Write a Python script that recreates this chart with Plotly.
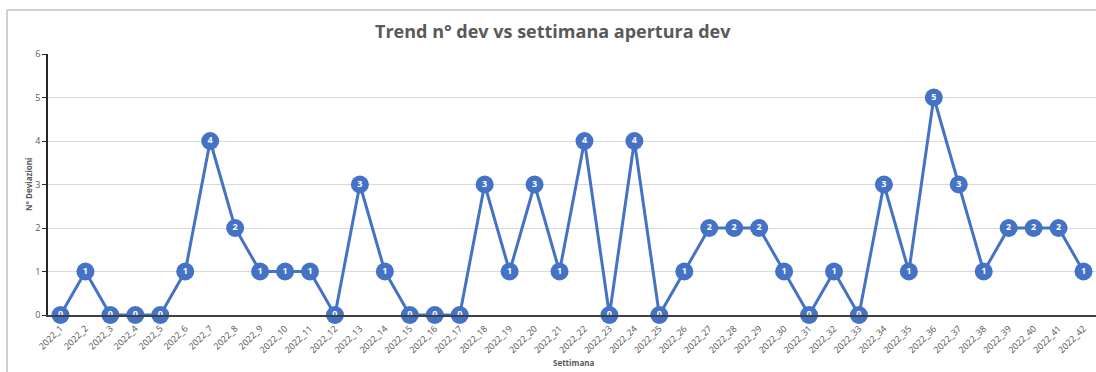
import plotly.graph_objects as go

weeks = [f"2022_{i}" for i in range(1, 43)]
deviations = [0, 1, 0, 0, 0, 1, 4, 2, 1, 1, 1, 0, 3, 1, 0, 0, 0, 3, 1, 3, 1,
              4, 0, 4, 0, 1, 2, 2, 2, 1, 0, 1, 0, 3, 1, 5, 3, 1, 2, 2, 2, 1]
y_ticks = [0, 1, 2, 3, 4, 5, 6]

W, H = 1096, 372
L, R, T, B = 48, 0, 54, 57
pw, ph = W - L - R, H - T - B

blue = "#4472C4"
grey_txt = "#595959"
font = "Open Sans"

fig = go.Figure()
fig.add_trace(go.Scatter(
    x=weeks, y=deviations,
    mode="lines+markers+text",
    line=dict(color=blue, width=3),
    marker=dict(size=18, color=blue, line=dict(width=0)),
    text=[str(v) for v in deviations],
    textposition="middle center",
    textfont=dict(family=font, size=9, color="white", weight="bold"),
    cliponaxis=False,
    hoverinfo="x+y",
))

fig.update_layout(
    width=W, height=H,
    margin=dict(l=L, r=R, t=T, b=B),
    paper_bgcolor="white", plot_bgcolor="white",
    showlegend=False,
    font=dict(family=font, color=grey_txt),
    xaxis=dict(
        type="category", range=[-0.5, len(weeks) - 0.5],
        tickangle=-45, tickfont=dict(size=9, color="#505050"),
        ticklabelstandoff=3,
        showgrid=False, showline=True, linecolor="#404040", linewidth=1.5,
        ticks="", zeroline=False, fixedrange=True,
    ),
    yaxis=dict(
        range=[0, 6], tickvals=y_ticks, tickfont=dict(size=9, color=grey_txt),
        showgrid=True, gridcolor="#d9d9d9", gridwidth=1,
        showline=True, linecolor="#262626", linewidth=1.5,
        ticks="outside", ticklen=4, tickcolor="#262626",
        zeroline=False, fixedrange=True,
    ),
    annotations=[
        dict(text="<b>Trend n° dev vs settimana apertura dev</b>",
             xref="paper", yref="paper", x=(W / 2 + 5 - L) / pw, y=(H - B - 31) / ph,
             xanchor="center", yanchor="middle", showarrow=False,
             font=dict(size=18, color=grey_txt, family=font)),
        dict(text="<b>N° Deviazioni</b>", textangle=-90,
             xref="paper", yref="paper", x=(28 - L) / pw, y=(H - B - 185) / ph,
             xanchor="center", yanchor="middle", showarrow=False,
             font=dict(size=8, color=grey_txt, family=font)),
        dict(text="<b>Settimana</b>",
             xref="paper", yref="paper", x=(573 - L) / pw, y=(H - B - 362) / ph,
             xanchor="center", yanchor="middle", showarrow=False,
             font=dict(size=8, color=grey_txt, family=font)),
    ],
    shapes=[
        dict(type="line", xref="paper", yref="paper",
             x0=(7 - L) / pw, x1=(7 - L) / pw, y0=(H - B - 10) / ph, y1=(H - B - H) / ph,
             line=dict(color="#bfbfbf", width=1.5)),
        dict(type="line", xref="paper", yref="paper",
             x0=(7 - L) / pw, x1=1.0, y0=(H - B - 10) / ph, y1=(H - B - 10) / ph,
             line=dict(color="#bfbfbf", width=1.5)),
    ],
)

fig.write_html("out.html")
